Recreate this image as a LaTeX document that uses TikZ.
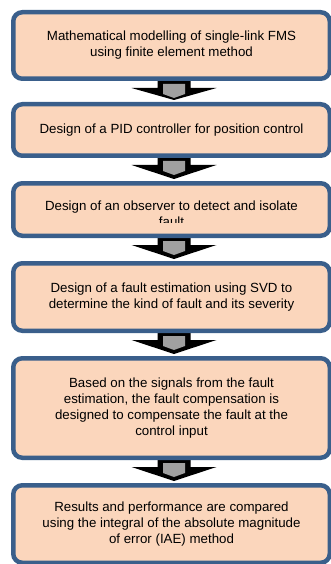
\documentclass[tikz,border=0pt]{standalone}
\usepackage{fontspec}
\setmainfont{Liberation Sans}
\usetikzlibrary{backgrounds}

\definecolor{stagefill}{RGB}{251,214,188}
\definecolor{stageline}{RGB}{58,95,139}
\definecolor{arrowgray}{RGB}{160,160,160}

\tikzset{
	stage/.style={draw=stageline, fill=stagefill, line width=4.5pt, rounded corners=9pt,
		minimum width=316.5pt, align=center, font=\fontsize{13.3}{16}\selectfont},
	stagetext/.style={align=center, font=\fontsize{13.3}{16}\selectfont},
}

% block arrow from the bottom of #1 to the top of #2
\newcommand{\flowarrow}[2]{%
	\fill[black] ([xshift=-14pt,yshift=4pt]#1.south) -- ([xshift=19pt,yshift=4pt]#1.south)
		-- ([xshift=19pt,yshift=-7pt]#1.south) -- ([xshift=45pt,yshift=-7pt]#1.south)
		-- ([xshift=2.5pt,yshift=2pt]#2.north) -- ([xshift=-40pt,yshift=-7pt]#1.south)
		-- ([xshift=-14pt,yshift=-7pt]#1.south) -- cycle;
	\fill[arrowgray] ([xshift=-8.5pt,yshift=-3pt]#1.south) -- ([xshift=13.5pt,yshift=-3pt]#1.south)
		-- ([xshift=13.5pt,yshift=-13pt]#1.south) -- ([xshift=2.5pt,yshift=-17pt]#1.south)
		-- ([xshift=-8.5pt,yshift=-13pt]#1.south) -- cycle;
}

\begin{document}
\begin{tikzpicture}[x=1pt, y=-1pt]
	\useasboundingbox (0,0) rectangle (331,564);

	\node[stage, minimum height=66.5pt] (model) at (171.5,45.5)
		{Mathematical modelling of single-link FMS\\using finite element method};
	\node[stage, minimum height=51.5pt] (pid) at (171.5,130)
		{Design of a PID controller for position control};
	\node[stage, minimum height=52.5pt] (observer) at (171.5,209.5) {};
	\begin{scope}
		\clip (11,181) rectangle (332,222);
		\node[stagetext] (observertext) at (171.5,214)
			{Design of an observer to detect and isolate\\fault};
	\end{scope}
	\node[stage, minimum height=67.5pt] (estim) at (171.5,297)
		{Design of a fault estimation using SVD to\\determine the kind of fault and its severity};
	\node[stage, minimum height=99.5pt] (comp) at (171.5,408)
		{Based on the signals from the fault\\estimation, the fault compensation is\\designed to compensate the fault at the\\control input};
	\node[stage, minimum height=77.5pt] (result) at (171.5,524)
		{Results and performance are compared\\using the integral of the absolute magnitude\\of error (IAE) method};

	\begin{pgfonlayer}{background}
		\flowarrow{model}{pid}
		\flowarrow{pid}{observer}
		\flowarrow{observer}{estim}
		\flowarrow{estim}{comp}
		\flowarrow{comp}{result}
	\end{pgfonlayer}
\end{tikzpicture}
\end{document}
